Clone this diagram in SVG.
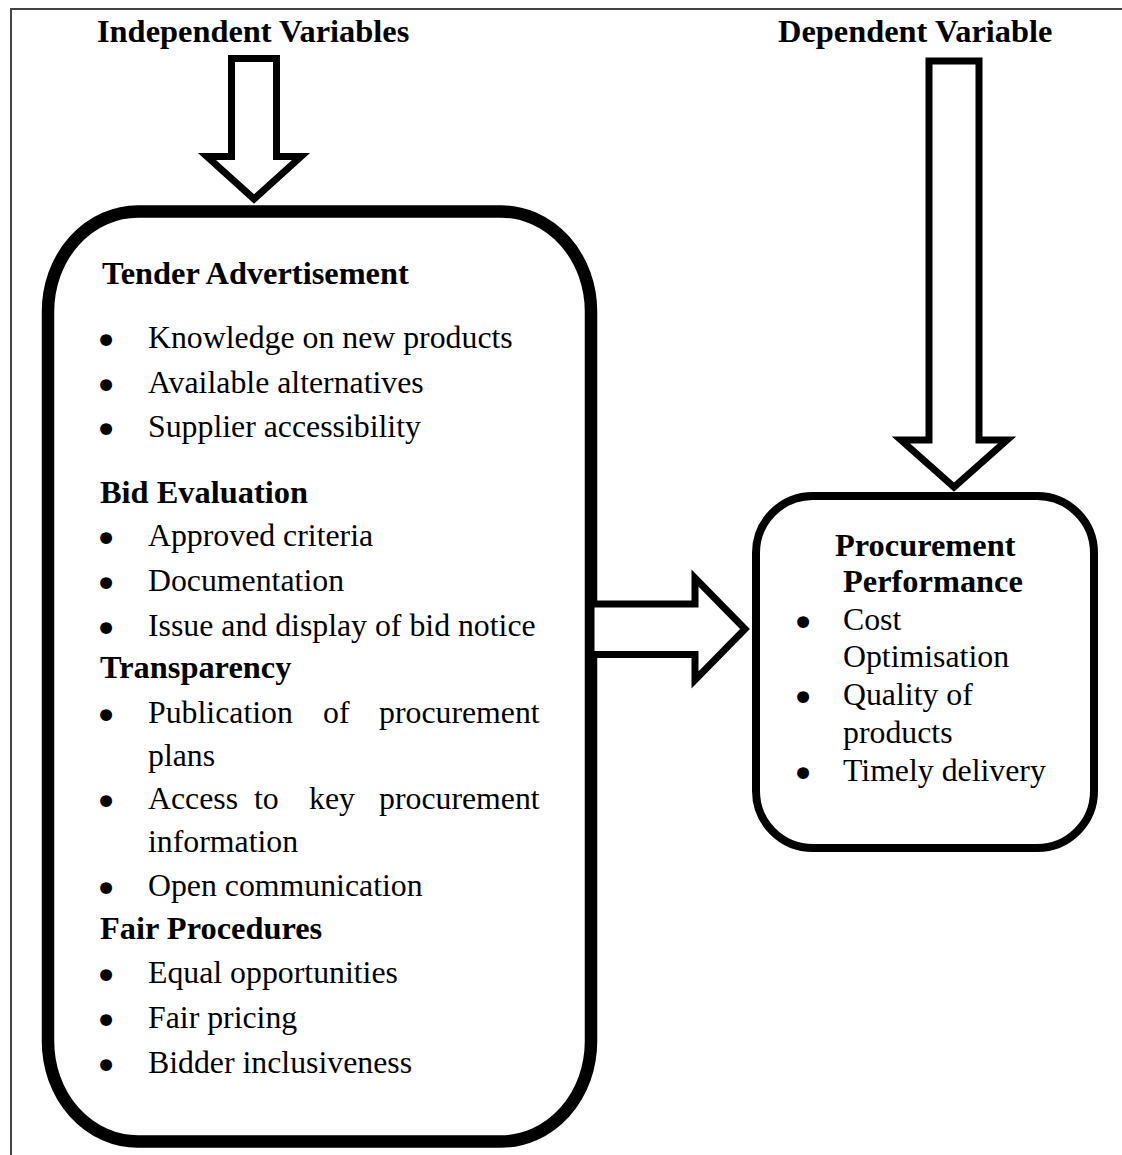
<svg xmlns="http://www.w3.org/2000/svg" width="1122" height="1155" viewBox="0 0 1122 1155">
<style>
text { font-family: "Liberation Serif", "Times New Roman", serif; fill: #000; }
.t { font-size: 31.8px; }
.h { font-size: 32.4px; font-weight: bold; }
.bul { font-family: "DejaVu Sans", sans-serif; font-size: 41px; }
.box { fill: #fff; stroke: #000; }
.arr { fill: #fff; stroke: #000; stroke-width: 7; stroke-linejoin: miter; }
</style>
<rect width="1122" height="1155" fill="#fff"/>
<path d="M11,1155 V9 H1122" fill="none" stroke="#444" stroke-width="2"/>

<g id="label-independent">
<text class="h" x="97" y="42">Independent Variables</text>
</g>
<g id="label-dependent">
<text class="h" x="778" y="42">Dependent Variable</text>
</g>

<g id="independent-box">
<rect class="box" x="48" y="211.5" width="543" height="930" rx="90" ry="100" stroke-width="12.5"/>
<text class="h" x="102" y="284">Tender Advertisement</text>
<text class="t" y="348"><tspan class="bul" x="94" dy="7">•</tspan><tspan x="148" dy="-7">Knowledge on new products</tspan></text>
<text class="t" y="393"><tspan class="bul" x="94" dy="7">•</tspan><tspan x="148" dy="-7">Available alternatives</tspan></text>
<text class="t" y="437"><tspan class="bul" x="94" dy="7">•</tspan><tspan x="148" dy="-7">Supplier accessibility</tspan></text>
<text class="h" x="100" y="503">Bid Evaluation</text>
<text class="t" y="546"><tspan class="bul" x="94" dy="7">•</tspan><tspan x="148" dy="-7">Approved criteria</tspan></text>
<text class="t" y="591"><tspan class="bul" x="94" dy="7">•</tspan><tspan x="148" dy="-7">Documentation</tspan></text>
<text class="t" y="636"><tspan class="bul" x="94" dy="7">•</tspan><tspan x="148" dy="-7">Issue and display of bid notice</tspan></text>
<text class="h" x="100" y="678">Transparency</text>
<text class="t" y="723"><tspan class="bul" x="94" dy="7">•</tspan><tspan x="148" dy="-7">Publication</tspan><tspan x="323">of</tspan><tspan x="379">procurement</tspan></text>
<text class="t" x="148" y="766">plans</text>
<text class="t" y="809"><tspan class="bul" x="94" dy="7">•</tspan><tspan x="148" dy="-7">Access</tspan><tspan x="254">to</tspan><tspan x="309">key</tspan><tspan x="379">procurement</tspan></text>
<text class="t" x="148" y="852">information</text>
<text class="t" y="896"><tspan class="bul" x="94" dy="7">•</tspan><tspan x="148" dy="-7">Open communication</tspan></text>
<text class="h" x="100" y="939">Fair Procedures</text>
<text class="t" y="983"><tspan class="bul" x="94" dy="7">•</tspan><tspan x="148" dy="-7">Equal opportunities</tspan></text>
<text class="t" y="1028"><tspan class="bul" x="94" dy="7">•</tspan><tspan x="148" dy="-7">Fair pricing</tspan></text>
<text class="t" y="1073"><tspan class="bul" x="94" dy="7">•</tspan><tspan x="148" dy="-7">Bidder inclusiveness</tspan></text>
</g>

<g id="dependent-box">
<rect class="box" x="756" y="496" width="338" height="352" rx="57" ry="57" stroke-width="8"/>
<text class="h" x="835" y="556">Procurement</text>
<text class="h" x="843" y="592">Performance</text>
<text class="t" y="630"><tspan class="bul" x="791" dy="7">•</tspan><tspan x="843" dy="-7">Cost</tspan></text>
<text class="t" x="843" y="667">Optimisation</text>
<text class="t" y="705"><tspan class="bul" x="791" dy="7">•</tspan><tspan x="843" dy="-7">Quality of</tspan></text>
<text class="t" x="843" y="743">products</text>
<text class="t" y="781"><tspan class="bul" x="791" dy="7">•</tspan><tspan x="843" dy="-7">Timely delivery</tspan></text>
</g>

<g id="connectors">
<polygon id="arrow-independent" class="arr" points="231.5,58.5 276.5,58.5 276.5,156.5 301,156.5 254,199 207,156.5 231.5,156.5"/>
<polygon id="arrow-dependent" class="arr" points="929,61 979,61 979,440 1007,440 954,487 901,440 929,440"/>
<polygon id="arrow-relationship" class="arr" points="591,604 695,604 695,578 745,629 695,680 695,654.5 591,654.5"/>
</g>
</svg>
